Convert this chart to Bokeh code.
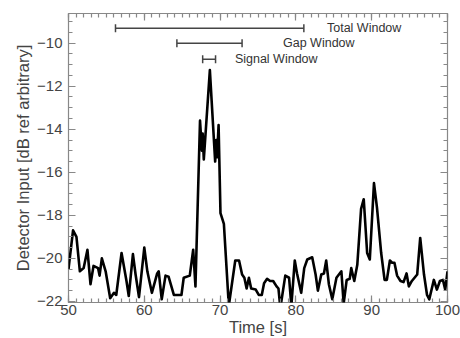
from bokeh.plotting import figure
from bokeh.models import ColumnDataSource, Range1d, LinearAxis, Whisker, TeeHead, FixedTicker
from bokeh.core.properties import value
from bokeh.embed import file_html
from bokeh.resources import INLINE

# ---- data ----
time_s = [50.0, 50.6, 51.05, 51.5, 52.0, 52.5, 52.9, 53.3, 53.9, 54.1, 54.4, 54.9,
          55.5, 56.0, 56.3, 57.0, 57.65, 57.95, 58.5, 58.85, 59.3, 60.0, 60.4, 61.0,
          61.7, 61.9, 62.3, 62.8, 63.2, 63.9, 64.9, 65.2, 66.0, 66.45, 66.75, 67.35,
          67.6, 67.7, 67.85, 68.65, 69.35, 69.5, 69.6, 69.8, 70.05, 70.5, 71.15, 72.0,
          72.5, 72.9, 73.2, 73.5, 73.8, 74.1, 74.7, 75.1, 75.5, 75.8, 76.2, 76.6,
          77.0, 77.45, 77.7, 77.95, 78.6, 79.1, 79.4, 79.85, 80.15, 80.7, 81.1, 81.5,
          82.15, 82.6, 82.9, 83.35, 83.7, 84.0, 84.35, 84.8, 85.35, 86.0, 86.3, 86.7,
          87.1, 87.3, 87.7, 88.1, 88.6, 88.95, 89.4, 89.75, 90.3, 90.7, 91.25, 91.7,
          92.0, 92.4, 92.7, 93.0, 93.35, 93.8, 94.2, 94.6, 94.9, 95.3, 96.0, 96.4,
          96.9, 97.3, 97.6, 98.2, 98.6, 99.0, 99.4, 99.7, 100.0]
detector_db = [-20.5, -18.7, -19.0, -20.6, -20.45, -19.6, -21.2, -20.35, -20.45, -20.8, -20.0, -20.6,
               -21.85, -21.6, -21.7, -19.75, -21.05, -21.75, -19.8, -20.75, -21.8, -19.5, -20.6, -21.6,
               -20.7, -20.6, -21.9, -20.8, -20.85, -21.7, -21.7, -20.9, -20.8, -19.6, -21.3, -13.6,
               -15.0, -14.2, -15.4, -11.25, -15.5, -14.5, -15.3, -13.8, -17.9, -18.4, -22.2, -20.1,
               -20.1, -20.75, -20.9, -21.4, -20.9, -21.4, -21.45, -21.7, -21.7, -21.15, -20.95, -21.05,
               -21.05, -21.3, -21.4, -22.3, -20.8, -20.9, -22.2, -20.1, -20.7, -21.6, -20.45, -20.05,
               -19.95, -20.75, -21.5, -20.75, -20.7, -20.1, -21.2, -21.9, -20.9, -20.6, -22.1, -21.0,
               -20.95, -20.45, -21.05, -20.3, -17.7, -17.25, -19.75, -20.05, -16.5, -17.65, -19.75, -21.0,
               -21.0, -20.1, -20.2, -20.2, -20.8, -21.05, -21.1, -20.7, -21.3, -21.05, -20.75, -19.05,
               -20.75, -21.7, -21.9, -21.0, -21.45, -21.05, -21.0, -21.45, -20.6]

window_names = ["Total Window", "Gap Window", "Signal Window"]
window_start = [56.2, 64.3, 67.7]
window_end = [81.05, 72.9, 69.4]
window_level = [-9.3, -10.0, -10.75]
label_x = [84.1, 78.3, 71.95]

x_ticks = [50, 60, 70, 80, 90, 100]
x_minor = list(range(50, 101))
y_ticks = [-22, -20, -18, -16, -14, -12, -10]
y_minor = [v / 2 for v in range(-44, -16)]

FONT = "Liberation Sans"
GRAY = "#888888"
TXT = "#444444"

p = figure(width=460, height=338, output_backend="svg", toolbar_location=None,
           x_range=Range1d(50, 100), y_range=Range1d(-22.05, -8.62),
           min_border_left=68, min_border_right=13, min_border_top=13, min_border_bottom=36)
p.background_fill_color = "white"
p.border_fill_color = "white"
p.outline_line_color = GRAY
p.outline_line_width = 1.2
p.xgrid.visible = False
p.ygrid.visible = False

p.line(time_s, detector_db, line_color="black", line_width=2.6, line_join="round")

src = ColumnDataSource(dict(lo=window_start, hi=window_end, y=window_level,
                            name=window_names, lx=label_x))
w = Whisker(base="y", lower="lo", upper="hi", dimension="width", source=src,
            line_color="#444444", line_width=1.5,
            upper_head=TeeHead(size=8, line_color="#444444", line_width=1.5),
            lower_head=TeeHead(size=8, line_color="#444444", line_width=1.5))
p.add_layout(w)
p.text(x="lx", y="y", text="name", source=src, text_font=value(FONT),
       text_font_size="12.5px", text_color="#333333", text_baseline="middle", text_align="left")


def style(ax, labels=True):
    ax.axis_line_color = None
    ax.major_tick_in = 7
    ax.major_tick_out = 0
    ax.minor_tick_in = 4
    ax.minor_tick_out = 0
    ax.major_tick_line_color = GRAY
    ax.minor_tick_line_color = GRAY
    ax.major_tick_line_width = 1.2
    ax.minor_tick_line_width = 1.2
    ax.major_label_text_font = FONT
    ax.major_label_text_font_size = "15px"
    ax.major_label_text_color = TXT
    ax.axis_label_text_font = FONT
    ax.axis_label_text_font_size = "16.5px"
    ax.axis_label_text_font_style = "normal"
    ax.axis_label_text_color = TXT
    if not labels:
        ax.major_label_text_font_size = "1px"
        ax.major_label_text_color = None
        ax.major_label_standoff = 0


xax = p.xaxis[0]
yax = p.yaxis[0]
xax.ticker = FixedTicker(ticks=x_ticks, minor_ticks=x_minor)
yax.ticker = FixedTicker(ticks=y_ticks, minor_ticks=y_minor)
style(xax)
style(yax)
xax.axis_label = "Time [s]"
yax.axis_label = "Detector Input [dB ref arbitrary]"
xax.major_label_standoff = 2
xax.axis_label_standoff = 0
yax.major_label_standoff = 6
yax.axis_label_standoff = 2

top = LinearAxis(ticker=FixedTicker(ticks=x_ticks, minor_ticks=x_minor))
right = LinearAxis(ticker=FixedTicker(ticks=y_ticks, minor_ticks=y_minor))
style(top, labels=False)
style(right, labels=False)
p.add_layout(top, "above")
p.add_layout(right, "right")

open("out.html", "w").write(file_html(p, INLINE))
